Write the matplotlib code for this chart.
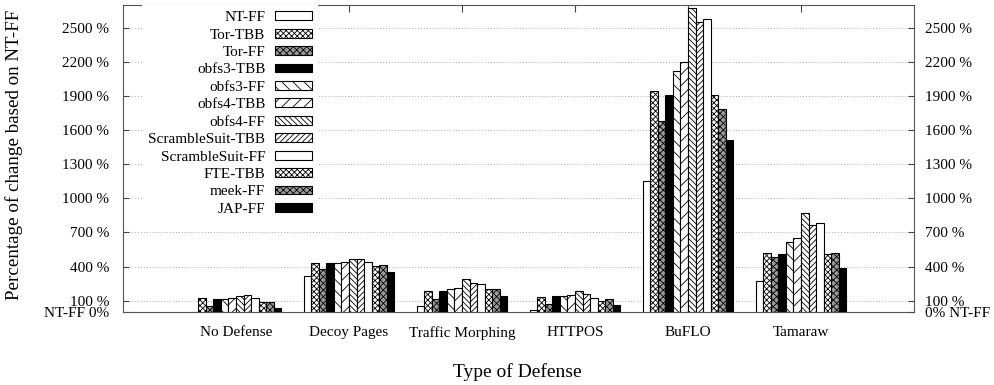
import numpy as np
import matplotlib
matplotlib.use("Agg")
import matplotlib.pyplot as plt

plt.rcParams['font.family'] = ['Liberation Serif', 'DejaVu Serif']
plt.rcParams['hatch.linewidth'] = 0.6

# defenses on the x axis
defenses = ["No Defense", "Decoy Pages", "Traffic Morphing", "HTTPOS", "BuFLO", "Tamaraw"]

# browser / transport combinations (one bar each per defense)
series_names = ["NT-FF", "Tor-TBB", "Tor-FF", "obfs3-TBB", "obfs3-FF", "obfs4-TBB",
                "obfs4-FF", "ScrambleSuit-TBB", "ScrambleSuit-FF", "FTE-TBB", "meek-FF", "JAP-FF"]

# percentage of change based on NT-FF, per defense (order as in defenses)
nt_ff       = [0,   318,  57,  19, 1150, 275]
tor_tbb     = [119, 435, 188, 133, 1940, 519]
tor_ff      = [54,  382, 112,  71, 1677, 484]
obfs3_tbb   = [110, 429, 185, 138, 1911, 510]
obfs3_ff    = [110, 429, 198, 138, 2122, 618]
obfs4_tbb   = [125, 443, 212, 150, 2201, 651]
obfs4_ff    = [142, 467, 294, 185, 2676, 873]
ss_tbb      = [148, 467, 256, 162, 2550, 762]
ss_ff       = [119, 443, 247, 127, 2573, 785]
fte_tbb     = [86,  405, 200,  98, 1908, 513]
meek_ff     = [92,  414, 200, 115, 1788, 519]
jap_ff      = [36,  352, 138,  65, 1509, 384]

series_values = [nt_ff, tor_tbb, tor_ff, obfs3_tbb, obfs3_ff, obfs4_tbb,
                 obfs4_ff, ss_tbb, ss_ff, fte_tbb, meek_ff, jap_ff]

ytick_vals = [0, 100, 400, 700, 1000, 1300, 1600, 1900, 2200, 2500]

# gnuplot-like fill patterns, cycling after 8
patterns = [("white", ""), ("white", "xxxxxx"), ("#9a9a9a", "xxxxx"), ("black", ""),
            ("white", "\\\\\\"), ("white", "///"), ("white", "\\\\\\\\\\\\"), ("white", "//////")]

fig = plt.figure(figsize=(9.95, 3.85), dpi=100)
ax = fig.add_axes([0.1236, 0.1896, 0.795, 0.7974])

x = np.arange(len(defenses))
n = len(series_names)
w = 1.0 / (n + 3)

for j, (name, vals) in enumerate(zip(series_names, series_values)):
    fc, hatch = patterns[j % len(patterns)]
    ax.bar(x + (j - (n - 1) / 2) * w, vals, w, color=fc, hatch=hatch,
           edgecolor="black", linewidth=0.8, label=name, zorder=3)

fs = 11
ax.set_xlim(-1, 6)
ax.set_ylim(0, 2700)
ax.set_xticks(x)
ax.set_xticklabels(defenses, fontsize=fs)
ax.set_yticks(ytick_vals)
ax.set_yticklabels(["NT-FF 0%"] + [f"{v} %" for v in ytick_vals[1:]], fontsize=fs)
ax.tick_params(axis="x", direction="in", top=True, length=5, pad=10, colors="#444444",
               labelcolor="black")
ax.tick_params(axis="y", direction="in", length=4, pad=10, colors="#444444", labelcolor="black")
ax.grid(axis="y", linestyle=(0, (1, 2)), color="#aaaaaa", linewidth=0.7, zorder=0)
for s in ax.spines.values():
    s.set_color("#555555")

ax2 = ax.twinx()
ax2.set_ylim(0, 2700)
ax2.set_yticks(ytick_vals)
ax2.set_yticklabels(["0% NT-FF"] + [f"{v} %" for v in ytick_vals[1:]], fontsize=fs)
ax2.tick_params(axis="y", direction="in", length=4, pad=8, colors="#444444", labelcolor="black")
for s in ax2.spines.values():
    s.set_visible(False)

leg = ax.legend(loc="upper right", bbox_to_anchor=(0.2465, 1.0), borderaxespad=0,
                markerfirst=False, fontsize=fs, handlelength=2.4, handleheight=0.52,
                handletextpad=0.65, labelspacing=0.29, borderpad=0.4,
                frameon=True, fancybox=False, framealpha=1)
leg.get_frame().set_edgecolor("none")
leg.get_frame().set_facecolor("white")
leg.set_zorder(5)

fig.text(0.0146, 0.597, "Percentage of change based on NT-FF", rotation=90,
         ha="center", va="center", fontsize=13.7)
fig.text(0.52, 1 - 372 / 385, "Type of Defense", ha="center", va="center", fontsize=14)

fig.savefig("out.png", dpi=100)
